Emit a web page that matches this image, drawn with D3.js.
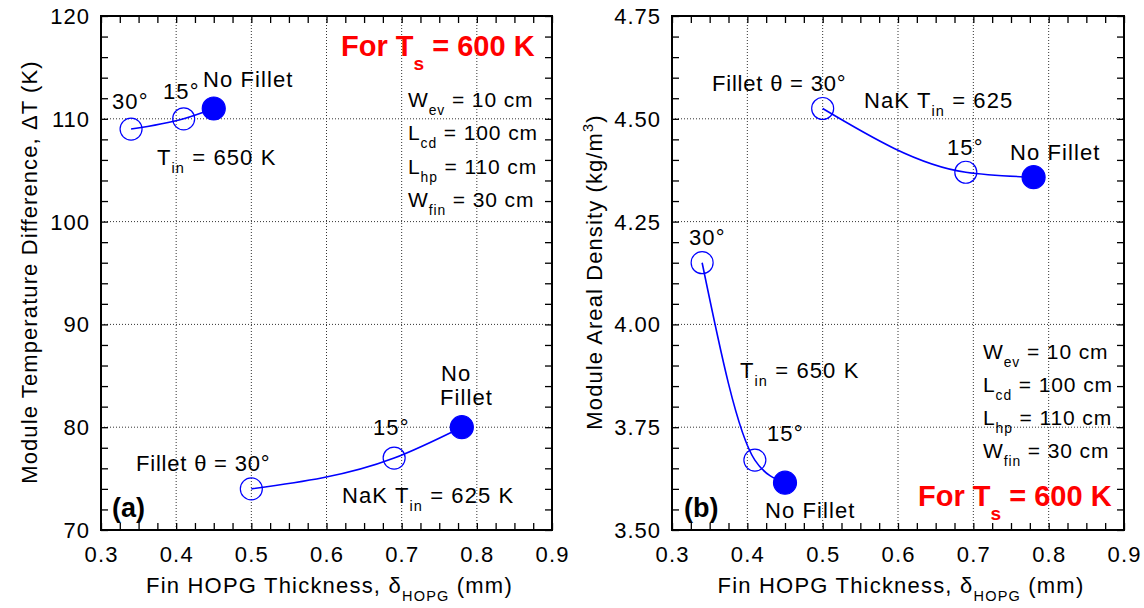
<!DOCTYPE html>
<html>
<head>
<meta charset="utf-8">
<script src="https://cdn.jsdelivr.net/npm/d3@7"></script>
<style>
  body { margin: 0; background: #fff; }
  text { font-family: "Liberation Sans", Arial, sans-serif; }
</style>
</head>
<body>
<div id="chart"></div>
<script>
// x values (fin HOPG thickness, mm) for each fillet case: 30°, 15°, no fillet
const thick650 = [0.34, 0.41, 0.45];
const thick625 = [0.50, 0.69, 0.78];

// panel (a): module temperature difference (K)
const dT650 = [109, 110, 111];
const dT625 = [74, 77, 80];

// panel (b): module areal density (kg/m2)
const rho650 = [4.15, 3.67, 3.615];
const rho625 = [4.525, 4.37, 4.358];

const xTicks = [0.3, 0.4, 0.5, 0.6, 0.7, 0.8, 0.9];
const yTicksA = [70, 80, 90, 100, 110, 120];
const yTicksB = [3.50, 3.75, 4.00, 4.25, 4.50, 4.75];

const blue = "#0000ff", red = "#ff0000";

const svg = d3.select("#chart").append("svg")
    .attr("width", 1144)
    .attr("height", 608);

// text with subscripts / superscripts: parts are strings or {sub:".."} / {sup:".."}
function richText(g, x, y, parts, size, opts = {}) {
    const t = g.append("text")
        .attr("x", x).attr("y", y)
        .attr("font-size", size)
        .attr("fill", opts.fill || "#000")
        .attr("font-weight", opts.bold ? "bold" : null)
        .attr("letter-spacing", opts.bold ? null : (opts.ls != null ? opts.ls : 1.1))
        .attr("text-anchor", opts.anchor || "start");
    if (opts.transform) t.attr("transform", opts.transform);
    let shift = 0;
    parts.forEach(p => {
        const s = t.append("tspan");
        if (typeof p === "string") {
            s.attr("dy", -shift).text(p);
            shift = 0;
        } else if (p.sub) {
            const d = Math.round(size * (opts.subDy || 0.37));
            s.attr("dy", d - shift).attr("font-size", size * 0.66).text(p.sub);
            shift = d;
        } else if (p.sup) {
            const d = -Math.round(size * 0.42);
            s.attr("dy", d - shift).attr("font-size", size * 0.66).text(p.sup);
            shift = d;
        }
    });
    return t;
}

function panel(left, right, yDomain, yTicks, yMinorStep, yFmt, s650, s625) {
    const top = 16, bottom = 530;
    const x = d3.scaleLinear().domain([0.3, 0.9]).range([left, right]);
    const y = d3.scaleLinear().domain(yDomain).range([bottom, top]);
    const g = svg.append("g");

    // dotted grid at inner major ticks
    g.selectAll(".gx").data(xTicks.slice(1, -1)).enter().append("line")
        .attr("x1", d => x(d)).attr("x2", d => x(d))
        .attr("y1", top).attr("y2", bottom)
        .attr("stroke", "#333").attr("stroke-width", 1).attr("stroke-dasharray", "1,2");
    g.selectAll(".gy").data(yTicks.slice(1, -1)).enter().append("line")
        .attr("y1", d => y(d)).attr("y2", d => y(d))
        .attr("x1", left).attr("x2", right)
        .attr("stroke", "#333").attr("stroke-width", 1).attr("stroke-dasharray", "1,2");

    const xMinor = d3.range(0.3, 0.9001, 0.025);
    const yMinor = d3.range(yDomain[0], yDomain[1] + 1e-6, yMinorStep);

    const ax = (axis, tr) => {
        const a = g.append("g").attr("transform", tr).call(axis);
        a.select(".domain").remove();
        a.selectAll("line").attr("stroke", "#000").attr("stroke-width", 1.3);
        return a;
    };
    // inward ticks on all four sides
    ax(d3.axisBottom(x).tickValues(xMinor).tickSize(-7).tickFormat(""), `translate(0,${bottom})`);
    ax(d3.axisTop(x).tickValues(xMinor).tickSize(-7).tickFormat(""), `translate(0,${top})`);
    ax(d3.axisLeft(y).tickValues(yMinor).tickSize(-7).tickFormat(""), `translate(${left},0)`);
    ax(d3.axisRight(y).tickValues(yMinor).tickSize(-7).tickFormat(""), `translate(${right},0)`);

    // tick labels
    g.selectAll(".xl").data(xTicks).enter().append("text")
        .attr("x", d => x(d) + 0.6).attr("y", 562)
        .attr("text-anchor", "middle").attr("font-size", 22)
        .attr("letter-spacing", 1.2)
        .text(d3.format(".1f"));
    g.selectAll(".yl").data(yTicks).enter().append("text")
        .attr("x", left - 11).attr("y", d => y(d) + 8)
        .attr("text-anchor", "end").attr("font-size", 22)
        .attr("letter-spacing", 1)
        .text(yFmt);

    // frame
    g.append("rect")
        .attr("x", left).attr("y", top)
        .attr("width", right - left).attr("height", bottom - top)
        .attr("fill", "none").attr("stroke", "#000").attr("stroke-width", 2);

    // series
    const line = d3.line().x(d => x(d[0])).y(d => y(d[1])).curve(d3.curveMonotoneX);
    [s650, s625].forEach(s => {
        const pts = s[0].map((v, i) => [v, s[1][i]]);
        g.append("path").attr("d", line(pts))
            .attr("fill", "none").attr("stroke", blue).attr("stroke-width", 1.6);
        g.selectAll(null).data(pts).enter().append("circle")
            .attr("cx", d => x(d[0])).attr("cy", d => y(d[1]))
            .attr("r", (d, i) => i === 2 ? 11.5 : 11)
            .attr("fill", (d, i) => i === 2 ? blue : "none")
            .attr("stroke", blue).attr("stroke-width", 1.2);
    });

    // x title
    richText(g, (left + right) / 2 + 3, 593,
        ["Fin HOPG Thickness, δ", { sub: "HOPG" }, " (mm)"], 22, { anchor: "middle", ls: 1.2 });
    return g;
}

const params = [["W", "ev", " = 10 cm"], ["L", "cd", " = 100 cm"], ["L", "hp", " = 110 cm"], ["W", "fin", " = 30 cm"]];

// ---- panel (a)
const ga = panel(101, 552, [70, 120], yTicksA, 2, d3.format("d"),
    [thick650, dT650], [thick625, dT625]);

richText(ga, 37, 272, ["Module Temperature Difference, ΔT (K)"], 22,
    { anchor: "middle", transform: "rotate(-90,37,272)" });

richText(ga, 112, 109, ["30°"], 22);
richText(ga, 163, 99, ["15°"], 22);
richText(ga, 203, 87, ["No Fillet"], 22);
richText(ga, 157, 165, ["T", { sub: "in" }, " = 650 K"], 22);
richText(ga, 136, 471, ["Fillet θ = 30°"], 22, { ls: 0.8 });
richText(ga, 373, 435, ["15°"], 22);
richText(ga, 441, 381, ["No"], 22);
richText(ga, 440, 405, ["Fillet"], 22);
richText(ga, 342, 503, ["NaK T", { sub: "in" }, " = 625 K"], 22);
richText(ga, 341, 56, ["For T", { sub: "s" }, " = 600 K"], 29, { fill: red, bold: true, subDy: 0.48 });
params.forEach((p, i) => richText(ga, 408, 107 + i * 33.3, [p[0], { sub: p[1] }, p[2]], 21, { ls: 0.9 }));
ga.append("text").attr("x", 112).attr("y", 517)
    .attr("font-family", "'Open Sans', sans-serif").attr("font-weight", "bold")
    .attr("font-size", 27).text("(a)");

// ---- panel (b)
const gb = panel(672, 1124, [3.5, 4.75], yTicksB, 0.05, d3.format(".2f"),
    [thick650, rho650], [thick625, rho625]);

richText(gb, 602, 272, ["Module Areal Density (kg/m", { sup: "3" }, ")"], 22,
    { anchor: "middle", transform: "rotate(-90,602,272)" });

richText(gb, 712, 91, ["Fillet θ = 30°"], 22, { ls: 0.8 });
richText(gb, 864, 108, ["NaK T", { sub: "in" }, " = 625"], 22);
richText(gb, 947, 155, ["15°"], 22);
richText(gb, 1010, 160, ["No Fillet"], 22);
richText(gb, 689, 245, ["30°"], 22);
richText(gb, 740, 378, ["T", { sub: "in" }, " = 650 K"], 22);
richText(gb, 767, 441, ["15°"], 22);
richText(gb, 765, 518, ["No Fillet"], 22);
richText(gb, 918, 506, ["For T", { sub: "s" }, " = 600 K"], 29, { fill: red, bold: true, subDy: 0.48 });
params.forEach((p, i) => richText(gb, 983, 359 + i * 33.1, [p[0], { sub: p[1] }, p[2]], 21, { ls: 0.9 }));
gb.append("text").attr("x", 684).attr("y", 517)
    .attr("font-family", "'Open Sans', sans-serif").attr("font-weight", "bold")
    .attr("font-size", 27).text("(b)");
</script>
</body>
</html>
